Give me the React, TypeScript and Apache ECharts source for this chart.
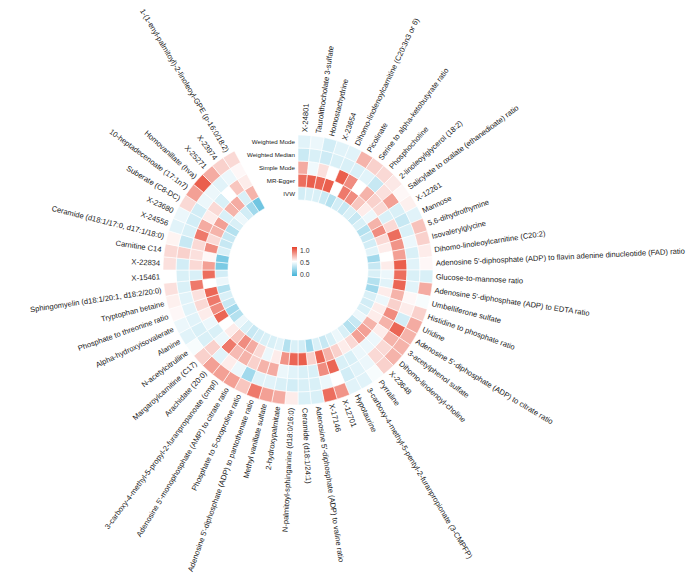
import React, { useEffect, useRef } from 'react';
import * as echarts from 'echarts';

const categories = [
  'X-24801',
  'Taurolithocholate 3-sulfate',
  'Homostachydrine',
  'X-23654',
  'Dihomo-linolenoylcarnitine (C20:3n3 or 6)',
  'Picolinate',
  'Serine to alpha-ketobutyrate ratio',
  'Phosphocholine',
  '2-linoleoylglycerol (18:2)',
  'Salicylate to oxalate (ethanedioate) ratio',
  'X-12261',
  'Mannose',
  '5,6-dihydrothymine',
  'Isovalerylglycine',
  'Dihomo-linoleoylcarnitine (C20:2)',
  "Adenosine 5'-diphosphate (ADP) to flavin adenine dinucleotide (FAD) ratio",
  'Glucose-to-mannose ratio',
  "Adenosine 5'-diphosphate (ADP) to EDTA ratio",
  'Umbelliferone sulfate',
  'Histidine to phosphate ratio',
  'Uridine',
  "Adenosine 5'-diphosphate (ADP) to citrate ratio",
  '3-acetylphenol sulfate',
  'Dihomo-linolenoyl-choline',
  'X-23648',
  'Pyrraline',
  '3-carboxy-4-methyl-5-pentyl-2-furanpropionate (3-CMPFP)',
  'Hypotaurine',
  'X-12701',
  'X-17146',
  "Adenosine 5'-diphosphate (ADP) to valine ratio",
  'Ceramide (d18:1/24:1)',
  'N-palmitoyl-sphinganine (d18:0/16:0)',
  '2-hydroxypalmitate',
  'Methyl vanillate sulfate',
  "Adenosine 5'-diphosphate (ADP) to pantothenate ratio",
  'Phosphate to 5-oxoproline ratio',
  "Adenosine 5'-monophosphate (AMP) to citrate ratio",
  '3-carboxy-4-methyl-5-propyl-2-furanpropanoate (cmpf)',
  'Arachidate (20:0)',
  'Margaroylcarnitine (C17)',
  'N-acetylcitrulline',
  'Alanine',
  'Alpha-hydroxyisovalerate',
  'Phosphate to threonine ratio',
  'Tryptophan betaine',
  'Sphingomyelin (d18:1/20:1, d18:2/20:0)',
  'X-15461',
  'X-22834',
  'Carnitine C14',
  'Ceramide (d18:1/17:0, d17:1/18:0)',
  'X-24556',
  'X-23680',
  'Suberate (C8-DC)',
  '10-heptadecenoate (17:1n7)',
  'Homovanillate (hva)',
  'X-25271',
  'X-23974',
  '1-(1-enyl-palmitoyl)-2-linoleoyl-GPE (p-16:0/18:2)',
];

// rings from inner to outer
const methods = ['IVW', 'MR-Egger', 'Simple Mode', 'Weighted Median', 'Weighted Mode'];

const ivw = [
  0.38, 0.40, 0.40, 0.36, 0.30, 0.38, 0.35, 0.40, 0.35, 0.40,
  0.30, 0.35, 0.38, 0.42, 0.25, 0.35, 0.40, 0.30, 0.25, 0.40,
  0.38, 0.40, 0.45, 0.35, 0.30, 0.40, 0.45, 0.40, 0.35, 0.40,
  0.25, 0.38, 0.40, 0.30, 0.42, 0.40, 0.40, 0.38, 0.35, 0.40,
  0.45, 0.30, 0.25, 0.35, 0.40, 0.30, 0.45, 0.38, 0.15, 0.15,
  0.40, 0.35, 0.35, 0.30, 0.40, 0.45, 0.38, 0.25, 0.12,
];
const mrEgger = [
  0.88, 0.92, 0.90, 0.92, 0.50, 0.85, 0.80, 0.65, 0.55, 0.45,
  0.70, 0.80, 0.60, 0.55, 0.50, 0.55, 0.45, 0.42, 0.55, 0.45,
  0.55, 0.55, 0.70, 0.75, 0.75, 0.60, 0.55, 0.62, 0.70, 0.90,
  0.62, 0.92, 0.90, 0.78, 0.55, 0.45, 0.60, 0.72, 0.80, 0.65,
  0.55, 0.50, 0.90, 0.80, 0.85, 0.90, 0.50, 0.88, 0.75, 0.52,
  0.80, 0.60, 0.70, 0.75, 0.40, 0.70, 0.72, 0.40, 0.70,
];
const simpleMode = [
  0.72, 0.46, 0.58, 0.50, 0.92, 0.80, 0.50, 0.70, 0.62, 0.60,
  0.40, 0.60, 0.88, 0.78, 0.75, 0.92, 0.88, 0.90, 0.70, 0.62,
  0.80, 0.70, 0.55, 0.45, 0.45, 0.45, 0.40, 0.40, 0.90, 0.80,
  0.40, 0.40, 0.42, 0.45, 0.72, 0.70, 0.62, 0.70, 0.68, 0.85,
  0.45, 0.40, 0.45, 0.55, 0.60, 0.58, 0.85, 0.40, 0.60, 0.58,
  0.60, 0.85, 0.72, 0.55, 0.60, 0.40, 0.50, 0.65, 0.55,
];
const weightedMedian = [
  0.36, 0.40, 0.37, 0.40, 0.40, 0.40, 0.42, 0.35, 0.58, 0.75,
  0.40, 0.35, 0.40, 0.45, 0.40, 0.42, 0.40, 0.42, 0.52, 0.55,
  0.38, 0.90, 0.70, 0.60, 0.60, 0.45, 0.42, 0.38, 0.50, 0.45,
  0.40, 0.40, 0.38, 0.40, 0.42, 0.42, 0.25, 0.45, 0.55, 0.42,
  0.62, 0.40, 0.40, 0.42, 0.42, 0.42, 0.40, 0.40, 0.38, 0.62,
  0.35, 0.40, 0.38, 0.38, 0.45, 0.45, 0.42, 0.45, 0.52,
];
const weightedMode = [
  0.42, 0.45, 0.38, 0.42, 0.42, 0.70, 0.62, 0.60, 0.56, 0.52,
  0.54, 0.42, 0.66, 0.62, 0.55, 0.52, 0.40, 0.72, 0.48, 0.62,
  0.72, 0.70, 0.70, 0.70, 0.62, 0.48, 0.42, 0.42, 0.78, 0.88,
  0.40, 0.40, 0.55, 0.72, 0.75, 0.85, 0.65, 0.75, 0.75, 0.75,
  0.62, 0.48, 0.42, 0.45, 0.52, 0.54, 0.58, 0.50, 0.58, 0.60,
  0.53, 0.42, 0.45, 0.60, 0.75, 0.92, 0.72, 0.62, 0.60,
];

const gapSlots = 5;
const legendTicks = ['1.0', '0.5', '0.0'];
const colorLow = '#43B3D8';
const colorMid = '#FFFFFF';
const colorHigh = '#E6402B';

export default function App() {
  const ref = useRef<HTMLDivElement>(null);

  useEffect(() => {
    document.body.style.margin = '0';
    const chart = echarts.init(ref.current!, null, { renderer: 'svg' });
    const rings = [ivw, mrEgger, simpleMode, weightedMedian, weightedMode];
    const data: number[][] = [];
    rings.forEach((vals, m) => {
      vals.forEach((v, a) => data.push([m, a, v]));
    });
    const angleData = categories.concat(
      Array.from({ length: gapSlots }, (_, i) => ' '.repeat(i + 1))
    );
    const outer = methods.length - 1;

    const renderItem = (params: any, api: any) => {
      const r = api.value(0);
      const a = api.value(1);
      const c = api.coord([r, a]);
      const size = api.size([1, 1], [r, a]);
      const cs = params.coordSys;
      const r0 = c[2] - size[0] / 2;
      const r1 = c[2] + size[0] / 2;
      const th = c[3];
      const children: any[] = [
        {
          type: 'sector',
          shape: {
            cx: cs.cx,
            cy: cs.cy,
            r0,
            r: r1,
            startAngle: -th - size[1] / 2,
            endAngle: -th + size[1] / 2,
            clockwise: true,
          },
          style: { fill: api.visual('color'), stroke: '#ffffff', lineWidth: 0.6 },
        },
      ];
      if (r === outer) {
        const R = r1 + 3;
        const cosT = Math.cos(th);
        const sinT = Math.sin(th);
        const right = cosT >= 0;
        children.push({
          type: 'text',
          x: cs.cx + R * cosT,
          y: cs.cy - R * sinT,
          rotation: right ? th : th - Math.PI,
          style: {
            text: categories[a],
            fill: '#1a1a1a',
            fontSize: 7.6,
            fontFamily: '"Liberation Sans", Arial, sans-serif',
            align: right ? 'left' : 'right',
            verticalAlign: 'middle',
          },
        });
      }
      return { type: 'group', children };
    };

    chart.setOption({
      animation: false,
      backgroundColor: '#ffffff',
      polar: { center: [298, 270], radius: [70, 135] },
      angleAxis: {
        type: 'category',
        data: angleData,
        startAngle: 90,
        clockwise: true,
        axisLine: { show: false },
        axisTick: { show: false },
        axisLabel: { show: false },
        splitLine: { show: false },
      },
      radiusAxis: {
        type: 'category',
        data: methods,
        axisLine: { show: false },
        axisTick: { show: false },
        splitLine: { show: false },
        axisLabel: {
          interval: 0,
          fontSize: 6.2,
          margin: 3,
          color: '#222222',
          fontFamily: '"Liberation Sans", Arial, sans-serif',
        },
        z: 10,
      },
      visualMap: {
        show: false,
        type: 'continuous',
        min: 0,
        max: 1,
        dimension: 2,
        seriesIndex: 0,
        inRange: { color: [colorLow, colorMid, colorHigh] },
      },
      graphic: [
        {
          type: 'rect',
          shape: { x: 292, y: 247, width: 5, height: 29 },
          style: {
            fill: new echarts.graphic.LinearGradient(0, 0, 0, 1, [
              { offset: 0, color: colorHigh },
              { offset: 0.5, color: colorMid },
              { offset: 1, color: colorLow },
            ]),
          },
        },
        ...legendTicks.map((t, i) => ({
          type: 'text',
          x: 300,
          y: 250 + i * 12,
          style: {
            text: t,
            fontSize: 6.8,
            fill: '#333333',
            fontFamily: '"Liberation Sans", Arial, sans-serif',
            verticalAlign: 'middle',
          },
        })),
      ],
      series: [
        {
          type: 'custom',
          coordinateSystem: 'polar',
          encode: { radius: 0, angle: 1 },
          data,
          renderItem,
        },
      ],
    });
    return () => chart.dispose();
  }, []);

  return <div ref={ref} style={{ width: 700, height: 575 }} />;
}
